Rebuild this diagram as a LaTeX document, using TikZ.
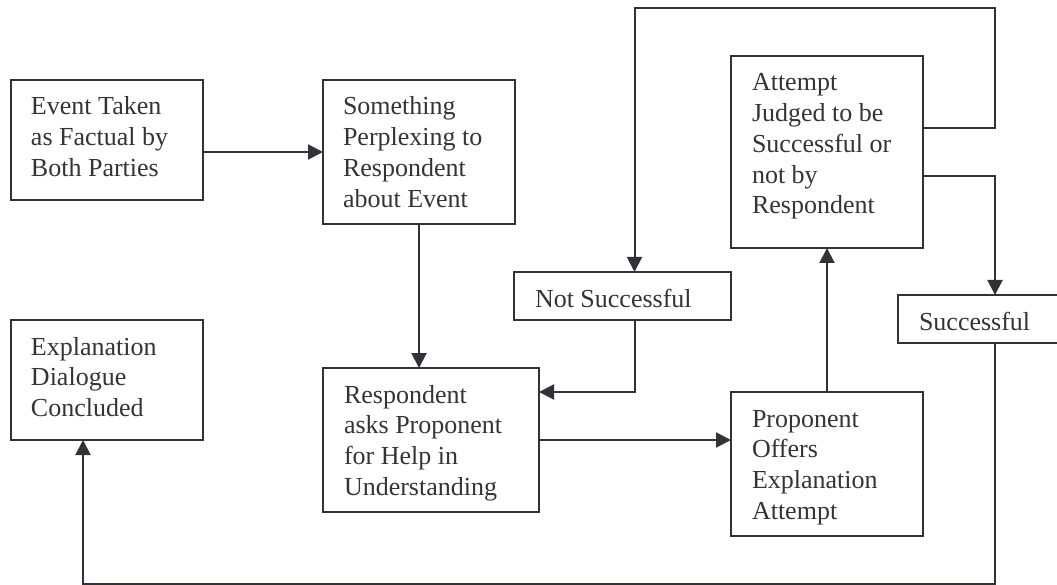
\documentclass[tikz,border=0pt]{standalone}
\usepackage{fontspec}
\setmainfont{Liberation Serif}
\usetikzlibrary{arrows.meta}
\definecolor{lc}{RGB}{50,50,56}
\definecolor{tc}{RGB}{52,52,56}
\newcommand{\bxt}[4]{\parbox[c][#2pt][t]{#1pt}{\raggedright\leftskip=#3pt\rule{0pt}{35pt}#4}}
\tikzset{
  box/.style={draw=lc, line width=2pt, rectangle, inner sep=0pt, outer sep=0pt,
    anchor=north west, text=tc, font=\fontsize{26}{30.7}\selectfont},
  arr/.style={draw=lc, line width=2pt, -{Triangle[length=15pt,width=15pt]}}
}
\begin{document}
\begin{tikzpicture}[x=1pt,y=-1pt]
\useasboundingbox (0,0) rectangle (1057,585);
\clip (0,0) rectangle (1057,585);
\node[box] (b1) at (11,80) {\bxt{192}{120}{20}{Event Taken\\as Factual by\\Both Parties}};
\node[box] (b2) at (323,80) {\bxt{192}{144}{20}{Something\\Perplexing to\\Respondent\\about Event}};
\node[box] (b3) at (731,56) {\bxt{192}{192}{21}{Attempt\\Judged to be\\Successful or\\not by\\Respondent}};
\node[box] (ns) at (514,272) {\bxt{217}{48}{21}{Not Successful}};
\node[box] (s) at (898,295) {\bxt{172}{48}{21}{Successful}};
\node[box] (b6) at (11,320) {\bxt{192}{120}{20}{Explanation\\Dialogue\\Concluded}};
\node[box] (b7) at (323,368) {\bxt{216}{144}{21}{Respondent\\asks Proponent\\for Help in\\Understanding}};
\node[box] (b8) at (731,392) {\bxt{192}{144}{21}{Proponent\\Offers\\Explanation\\Attempt}};
\coordinate (tA) at (0,152);
\coordinate (nsx) at (635,0);
\coordinate (r7) at (0,392);
\coordinate (lx) at (634.5,8);
\coordinate (rx) at (995,8);
\coordinate (e1) at (0,128);
\coordinate (e2) at (0,176);
\coordinate (bl) at (83,584);
\coordinate (br) at (995,584);
\draw[arr] (b1.east |- tA) -- (b2.west |- tA);
\draw[arr] (b2.south) -- (b2.south |- b7.north);
\draw[arr] (ns.south -| nsx) -- (nsx |- r7) -- (b7.east |- r7);
\draw[arr] (b7.east) -- (b8.west |- b7.east);
\draw[arr] (b8.north) -- (b3.south);
\draw[arr] (b3.east |- e1) -- (rx |- e1) -- (rx) -- (lx) -- (lx |- ns.north);
\draw[arr] (b3.east |- e2) -- (rx |- e2) -- (rx |- s.north);
\draw[arr] (s.south -| br) -- (br) -- (bl) -- (bl |- b6.south);
\end{tikzpicture}
\end{document}
